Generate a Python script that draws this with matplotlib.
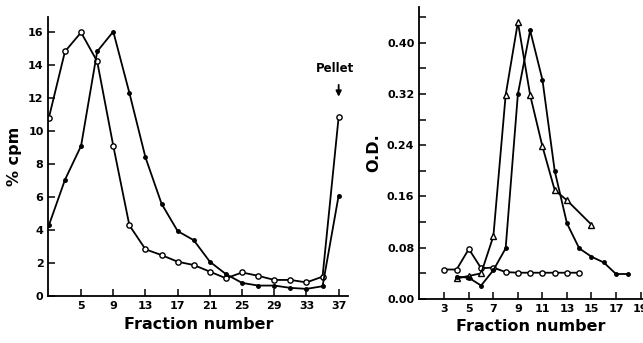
import numpy as np
import matplotlib.pyplot as plt
from matplotlib.ticker import MultipleLocator

plt.rcParams['font.family'] = 'DejaVu Sans'
plt.rcParams['font.weight'] = 'bold'

# left panel: % cpm vs fraction number
frac_left = [1, 3, 5, 7, 9, 11, 13, 15, 17, 19, 21, 23, 25, 27, 29, 31, 33, 35, 37]
cpm_open = [10.8, 14.8, 15.95, 14.2, 9.1, 4.3, 2.85, 2.5, 2.1, 1.9, 1.5, 1.1, 1.45,
            1.25, 1.0, 1.0, 0.85, 1.2, 10.85]
cpm_filled = [4.3, 7.05, 9.1, 14.8, 16.0, 12.3, 8.4, 5.6, 3.95, 3.4, 2.1, 1.35, 0.82,
              0.66, 0.66, 0.52, 0.46, 0.62, 6.1]
left_ticks = [5, 9, 13, 17, 21, 25, 29, 33, 37]

# right panel: O.D. vs fraction number
frac_circ = [3, 4, 5, 6, 7, 8, 9, 10, 11, 12, 13, 14]
od_circ = [0.046, 0.046, 0.078, 0.048, 0.049, 0.042, 0.041, 0.041, 0.041, 0.041, 0.041, 0.041]
frac_tri = [4, 5, 6, 7, 8, 9, 10, 11, 12, 13, 15]
od_tri = [0.032, 0.036, 0.040, 0.098, 0.318, 0.432, 0.318, 0.238, 0.170, 0.154, 0.116]
frac_dot = [4, 5, 6, 7, 8, 9, 10, 11, 12, 13, 14, 15, 16, 17, 18]
od_dot = [0.035, 0.033, 0.021, 0.045, 0.079, 0.320, 0.419, 0.342, 0.200, 0.118, 0.079,
          0.066, 0.057, 0.039, 0.039]
right_ticks = [3, 5, 7, 9, 11, 13, 15, 17, 19]

fig = plt.figure(figsize=(6.43, 3.43), dpi=100)
ax1 = fig.add_axes([0.0754, 0.1356, 0.4663, 0.8157])
ax2 = fig.add_axes([0.6521, 0.1283, 0.3479, 0.852])

lw = 1.3
ax1.plot(frac_left, cpm_open, color="k", lw=lw, marker="o", ms=3.8, mfc="white", mec="k", mew=1.0)
ax1.plot(frac_left, cpm_filled, color="k", lw=lw, marker="o", ms=2.5, mfc="k", mec="k")

ax1.set_xlim(0.95, 38.2)
ax1.set_ylim(0, 16.9)
ax1.set_xticks(left_ticks)
ax1.yaxis.set_major_locator(MultipleLocator(2))
ax1.set_xlabel("Fraction number", fontsize=11.5, fontweight="bold")
ax1.set_ylabel("% cpm", fontsize=11.5, fontweight="bold")

# pellet marker
ax1.annotate("", xy=(37, 11.9), xytext=(37, 12.95),
             arrowprops=dict(arrowstyle="-|>", color="k", lw=1.3, mutation_scale=8))
ax1.text(36.5, 13.4, "Pellet", ha="center", va="bottom", fontsize=8.5, fontweight="bold")

ax2.plot(frac_circ, od_circ, color="k", lw=lw, marker="o", ms=3.8, mfc="white", mec="k", mew=1.0)
ax2.plot(frac_tri, od_tri, color="k", lw=lw, marker="^", ms=5, mfc="white", mec="k", mew=1.0)
ax2.plot(frac_dot, od_dot, color="k", lw=lw, marker="o", ms=2.5, mfc="k", mec="k")

ax2.set_xlim(0.96, 19.2)
ax2.set_ylim(0, 0.456)
ax2.set_xticks(right_ticks)
ax2.yaxis.set_major_locator(MultipleLocator(0.08))
ax2.yaxis.set_minor_locator(MultipleLocator(0.04))
ax2.yaxis.set_major_formatter(plt.FormatStrFormatter("%.2f"))
ax2.set_xlabel("Fraction number", fontsize=11.5, fontweight="bold")
ax2.set_ylabel("O.D.", fontsize=11.5, fontweight="bold")

for ax in [ax1, ax2]:
    ax.spines["top"].set_visible(False)
    ax.spines["right"].set_visible(False)
    ax.spines["left"].set_linewidth(1.3)
    ax.spines["bottom"].set_linewidth(1.3)
    ax.tick_params(direction="in", length=5, width=1.1, labelsize=8)
    ax.tick_params(which="minor", direction="in", length=5, width=1.1)
    ax.patch.set_alpha(0)

fig.savefig("out.png", dpi=100)
